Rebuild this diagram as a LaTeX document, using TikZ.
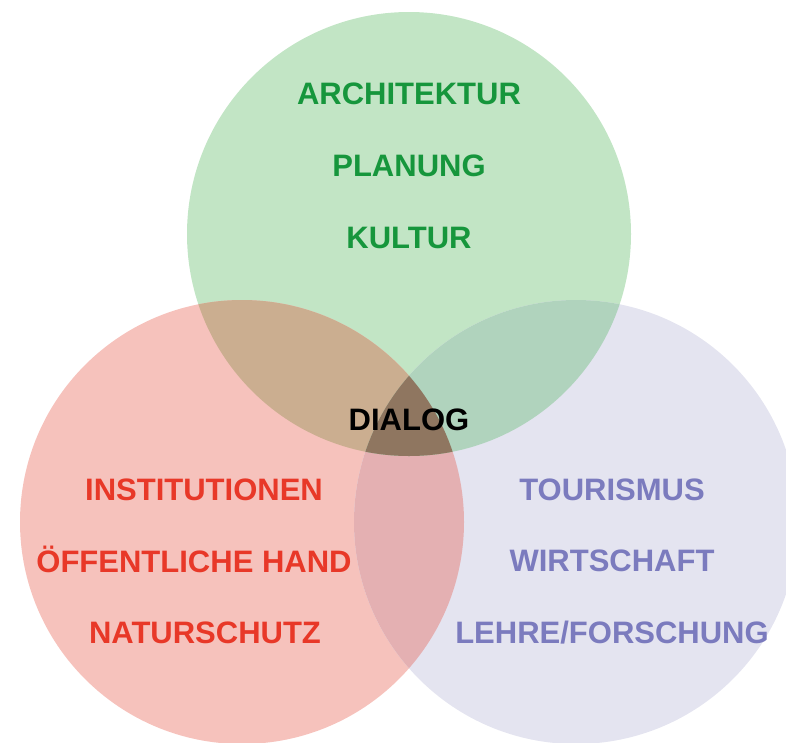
\documentclass[tikz,border=0pt]{standalone}
\usepackage{fontspec}
\setmainfont{Liberation Sans}
\definecolor{gfill}{RGB}{194,229,197}
\definecolor{rfill}{RGB}{246,194,188}
\definecolor{pfill}{RGB}{228,228,240}
\definecolor{rgfill}{RGB}{203,174,144}
\definecolor{gpfill}{RGB}{176,211,189}
\definecolor{rpfill}{RGB}{228,176,178}
\definecolor{cfill}{RGB}{143,118,96}
\definecolor{gtext}{RGB}{22,150,60}
\definecolor{rtext}{RGB}{232,56,40}
\definecolor{ptext}{RGB}{123,123,190}
\begin{document}
\begin{tikzpicture}[x=1pt,y=-1pt,
  lbl/.style={font=\fontsize{31}{31}\selectfont\bfseries, anchor=base, inner sep=0pt}]
\useasboundingbox (0,0) rectangle (786,742);
\clip (0,0) rectangle (786,742);
\coordinate (G) at (409,234);
\coordinate (Rd) at (242,522);
\coordinate (P) at (576,522);
\fill[gfill] (G) circle[radius=222pt];
\fill[rfill] (Rd) circle[radius=222pt];
\fill[pfill] (P) circle[radius=222pt];
\begin{scope}
  \clip (Rd) circle[radius=222pt];
  \fill[rpfill] (P) circle[radius=222pt];
\end{scope}
\begin{scope}
  \clip (G) circle[radius=222pt];
  \fill[rgfill] (Rd) circle[radius=222pt];
  \fill[gpfill] (P) circle[radius=222pt];
  \clip (Rd) circle[radius=222pt];
  \fill[cfill] (P) circle[radius=222pt];
\end{scope}
\node[lbl, text=gtext] (arch) at (409,104) {ARCHITEKTUR};
\node[lbl, text=gtext] (plan) at (409,176) {PLANUNG};
\node[lbl, text=gtext] (kult) at (409,248) {KULTUR};
\node[lbl, text=black] (dial) at (409,430) {DIALOG};
\node[lbl, text=rtext] (inst) at (204,500) {INSTITUTIONEN};
\node[lbl, text=rtext] (oeff) at (194,572) {ÖFFENTLICHE HAND};
\node[lbl, text=rtext] (natu) at (205,643) {NATURSCHUTZ};
\node[lbl, text=ptext] (tour) at (612,500) {TOURISMUS};
\node[lbl, text=ptext] (wirt) at (612,571) {WIRTSCHAFT};
\node[lbl, text=ptext] (lehr) at (612,643) {LEHRE/FORSCHUNG};
\end{tikzpicture}
\end{document}
